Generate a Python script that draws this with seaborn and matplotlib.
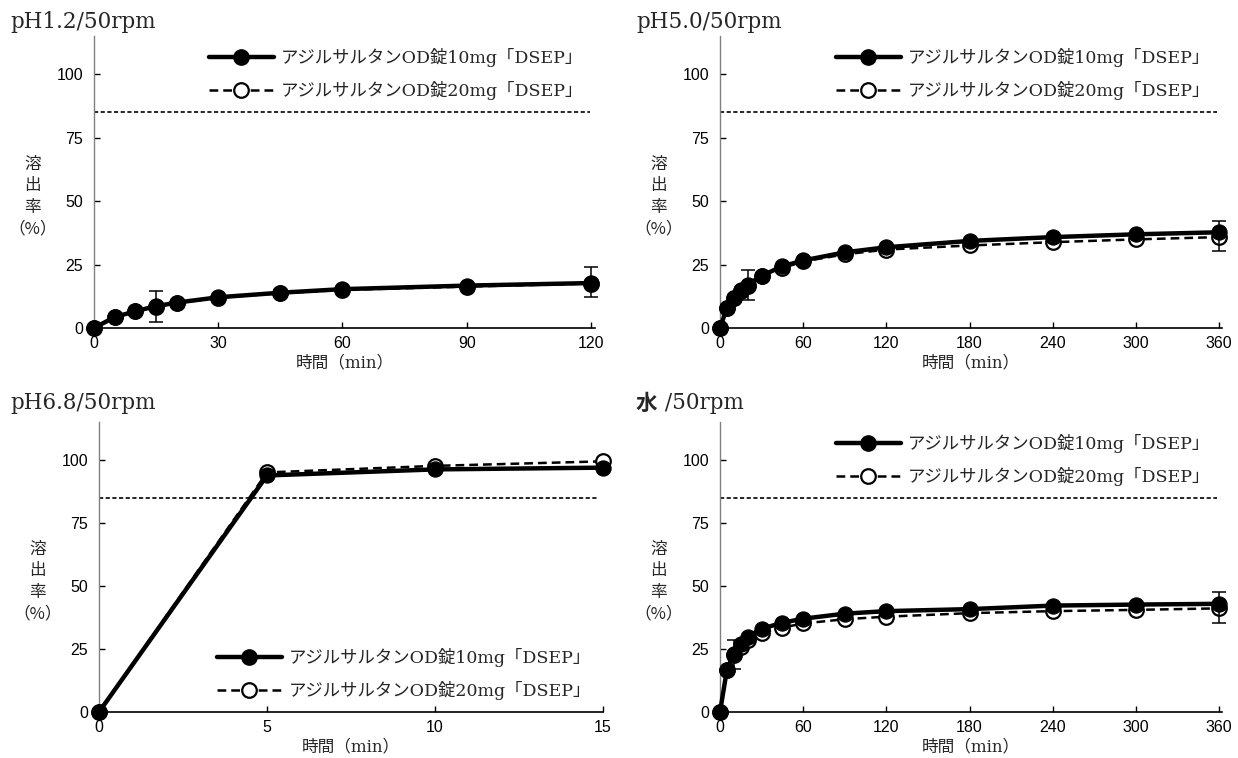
import numpy as np
import pandas as pd
import matplotlib
matplotlib.use("Agg")
import matplotlib.pyplot as plt
import seaborn as sns
from matplotlib.lines import Line2D

# ---------------- data ----------------
label_10 = "アジルサルタンOD錠10mg「DSEP」"
label_20 = "アジルサルタンOD錠20mg「DSEP」"

titles = ["pH1.2/50rpm", "pH5.0/50rpm", "pH6.8/50rpm", "水 /50rpm"]

t_ph12 = [0, 5, 10, 15, 20, 30, 45, 60, 90, 120]
ph12_10 = [0, 4.3, 6.6, 8.6, 10.0, 12.1, 13.9, 15.3, 16.7, 17.7]
ph12_20 = [0, 4.2, 6.5, 8.4, 9.8, 11.9, 13.7, 15.0, 16.3, 17.5]
ph12_err_t = [15, 120]
ph12_err_lo = [2.5, 12.2]
ph12_err_hi = [14.4, 24.0]

t_ph50 = [0, 5, 10, 15, 20, 30, 45, 60, 90, 120, 180, 240, 300, 360]
ph50_10 = [0, 8.0, 12.0, 14.8, 17.0, 20.6, 24.3, 26.6, 29.8, 31.8, 34.3, 35.8, 36.9, 37.7]
ph50_20 = [0, 7.8, 11.7, 14.5, 16.6, 20.3, 23.6, 26.2, 29.0, 30.9, 32.5, 33.8, 34.9, 35.8]
ph50_err_t = [20, 360]
ph50_err_lo = [11.1, 30.3]
ph50_err_hi = [22.8, 42.1]

t_ph68 = [0, 5, 10, 15]
ph68_10 = [0, 93.8, 96.2, 96.9]
ph68_20 = [0, 95.0, 97.6, 99.4]

t_water = [0, 5, 10, 15, 20, 30, 45, 60, 90, 120, 180, 240, 300, 360]
water_10 = [0, 16.8, 23.0, 26.8, 29.8, 33.0, 35.4, 37.0, 39.0, 40.0, 40.8, 42.2, 42.6, 42.9]
water_20 = [0, 16.5, 22.5, 25.8, 28.7, 31.5, 33.5, 35.1, 36.8, 37.8, 39.2, 40.0, 40.5, 41.1]
water_err_t = [10, 360]
water_err_lo = [17.1, 35.4]
water_err_hi = [28.6, 47.4]

x_ticks_120 = [0, 30, 60, 90, 120]
x_ticks_360 = [0, 60, 120, 180, 240, 300, 360]
x_ticks_15 = [0, 5, 10, 15]
y_ticks = [0, 25, 50, 75, 100]
ref_level = 85

# ---------------- style ----------------
sns.set_style("ticks")
plt.rcParams["font.family"] = ["Liberation Sans Narrow", "Liberation Sans", "DejaVu Sans"]
SERIF = ["DejaVu Serif", "Noto Sans CJK JP"]
CJK = ["Noto Sans CJK JP", "DejaVu Sans"]
TICKF = ["Liberation Sans Narrow", "Liberation Sans", "DejaVu Sans"]

fig = plt.figure(figsize=(12.38, 7.58), dpi=100)
W, H = 1238, 758

def px_axes(left, top, right, bottom):
    return fig.add_axes([left / W, 1 - bottom / H, (right - left) / W, (bottom - top) / H])

ax1 = px_axes(94, 36, 595, 328)
ax2 = px_axes(720, 36, 1222, 328)
ax3 = px_axes(99, 422, 603, 712)
ax4 = px_axes(720, 422, 1222, 712)

panels = [
    (ax1, t_ph12, ph12_10, ph12_20, ph12_err_t, ph12_err_lo, ph12_err_hi, x_ticks_120, 121, "upper right"),
    (ax2, t_ph50, ph50_10, ph50_20, ph50_err_t, ph50_err_lo, ph50_err_hi, x_ticks_360, 362, "upper right"),
    (ax3, t_ph68, ph68_10, ph68_20, [], [], [], x_ticks_15, 15, "lower right"),
    (ax4, t_water, water_10, water_20, water_err_t, water_err_lo, water_err_hi, x_ticks_360, 362, "upper right"),
]

title_pos = [(10, 22), (636, 22), (10, 403), (636, 403)]

renderer = fig.canvas.get_renderer()

for i, (ax, t, y10, y20, et, elo, ehi, xt, xmax, legloc) in enumerate(panels):
    df = pd.DataFrame({"t": t, "y10": y10, "y20": y20})
    ax.axhline(ref_level, xmin=0, xmax=0.99, color="black", lw=1.2,
               linestyle=(0, (2.5, 1.5)), zorder=1)
    sns.lineplot(data=df, x="t", y="y20", ax=ax, color="black", lw=1.8,
                 linestyle=(0, (3.5, 2)), marker="o", markersize=10.5,
                 markerfacecolor="white", markeredgecolor="black",
                 markeredgewidth=1.6, errorbar=None, clip_on=False, zorder=3)
    sns.lineplot(data=df, x="t", y="y10", ax=ax, color="black", lw=3.2,
                 marker="o", markersize=11, markerfacecolor="black",
                 markeredgecolor="black", errorbar=None, clip_on=False, zorder=4)
    if len(et):
        mid = [(a + b) / 2 for a, b in zip(elo, ehi)]
        half = [(b - a) / 2 for a, b in zip(elo, ehi)]
        ax.errorbar(et, mid, yerr=half, fmt="none", ecolor="black",
                    elinewidth=1.1, capsize=5, capthick=1.1, zorder=5, clip_on=False)
    ax.set_xlim(0, xmax)
    ax.set_ylim(0, 115)
    ax.set_xticks(xt)
    ax.set_yticks(y_ticks)
    ax.tick_params(direction="in", length=4, width=1, colors="black")
    ax.tick_params(axis="y", pad=8)
    ax.tick_params(axis="x", pad=6)
    for lab in ax.get_xticklabels() + ax.get_yticklabels():
        lab.set_fontfamily(TICKF)
        lab.set_fontsize(11.5)
    for s in ["top", "right"]:
        ax.spines[s].set_visible(False)
    ax.spines["left"].set_color("#808080")
    ax.spines["left"].set_linewidth(1.0)
    ax.spines["bottom"].set_color("black")
    ax.spines["bottom"].set_linewidth(1.2)
    ax.set_xlabel("時間（min）", fontfamily=SERIF, fontsize=12, labelpad=2)
    ax.set_ylabel("")
    ax.text(-0.122, 0.45, "溶\n出\n率\n（%）", transform=ax.transAxes,
            ha="center", va="center", fontfamily=CJK, fontsize=12, linespacing=1.35)
    handles = [
        Line2D([], [], color="black", lw=3.2, marker="o", markersize=11,
               markerfacecolor="black"),
        Line2D([], [], color="black", lw=1.8, linestyle=(0, (3.5, 2)), marker="o",
               markersize=10.5, markerfacecolor="white", markeredgewidth=1.6),
    ]
    if legloc == "upper right":
        ax.legend(handles, [label_10, label_20], loc="upper right",
                  bbox_to_anchor=(1.0, 1.0), frameon=False,
                  prop={"family": SERIF, "size": 12.5}, handlelength=3.7,
                  handletextpad=0.4, labelspacing=0.8, borderaxespad=0.3)
    else:
        ax.legend(handles, [label_10, label_20], loc="lower right",
                  bbox_to_anchor=(1.0, 0.0), frameon=False,
                  prop={"family": SERIF, "size": 12.5}, handlelength=3.7,
                  handletextpad=0.4, labelspacing=0.8, borderaxespad=0.3)
    tx, ty = title_pos[i]
    title = titles[i]
    if title.startswith("水"):
        head = fig.text(tx / W, 1 - ty / H, title[0], ha="left", va="center",
                        fontfamily=CJK, fontsize=15.5, fontweight="bold")
        bb = head.get_window_extent(renderer)
        fig.text(bb.x1 / W, 1 - ty / H, title[1:], ha="left", va="center",
                 fontfamily=SERIF, fontsize=15.5)
    else:
        fig.text(tx / W, 1 - ty / H, title, ha="left", va="center",
                 fontfamily=SERIF, fontsize=15.5)

fig.savefig("out.png", dpi=100)
